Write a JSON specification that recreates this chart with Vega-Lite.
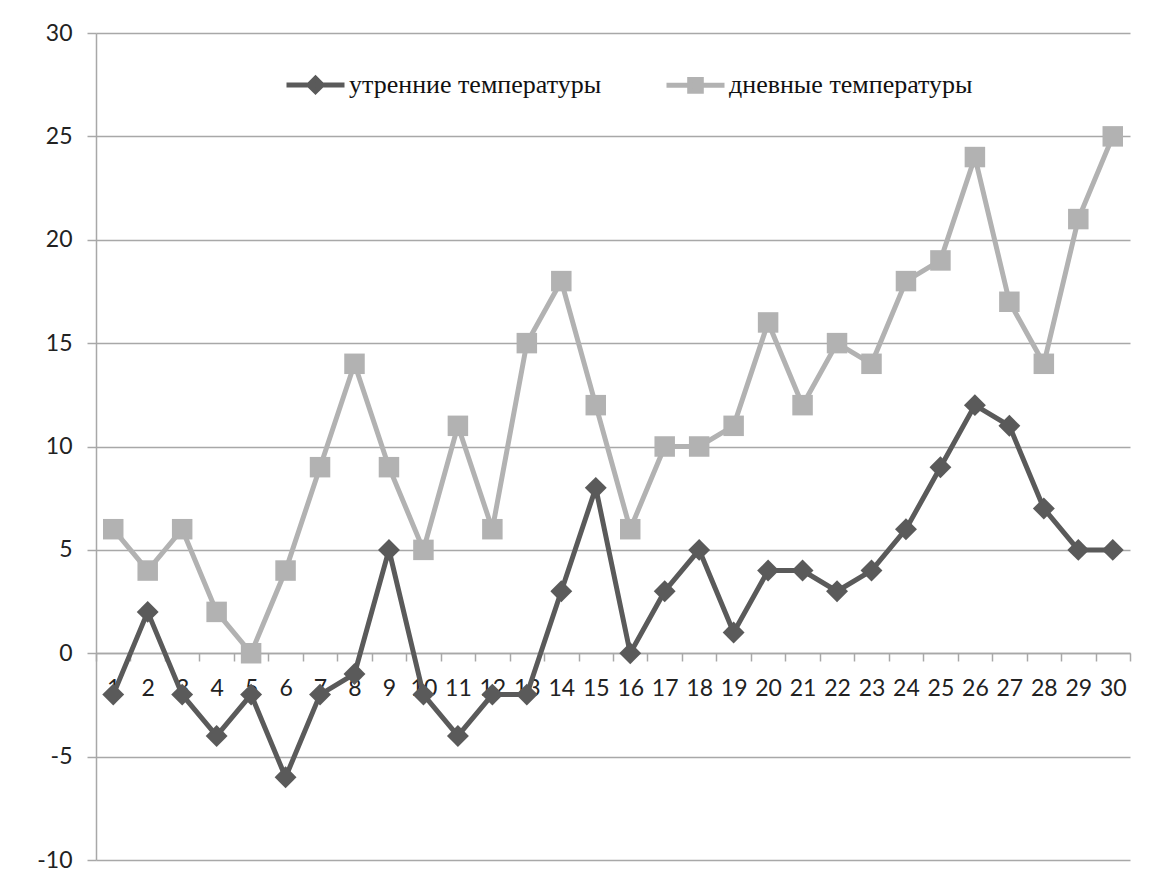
{
  "$schema": "https://vega.github.io/schema/vega-lite/v6.json",
  "width": 1034,
  "height": 827,
  "autosize": {"type": "none"},
  "padding": {"left": 96, "top": 33, "right": 20, "bottom": 23},
  "background": "white",
  "config": {
    "view": {"stroke": null},
    "axis": {
      "labelFont": "Lato",
      "labelFontSize": 23,
      "labelColor": "#222222",
      "domainColor": "#a8a8a8",
      "domainWidth": 1.5,
      "tickColor": "#a8a8a8",
      "tickWidth": 1.5,
      "gridColor": "#a8a8a8",
      "gridWidth": 1.5,
      "title": null
    }
  },
  "data": {
    "values": [
      {"day": 1, "series": "утренние температуры", "t": -2},
      {"day": 2, "series": "утренние температуры", "t": 2},
      {"day": 3, "series": "утренние температуры", "t": -2},
      {"day": 4, "series": "утренние температуры", "t": -4},
      {"day": 5, "series": "утренние температуры", "t": -2},
      {"day": 6, "series": "утренние температуры", "t": -6},
      {"day": 7, "series": "утренние температуры", "t": -2},
      {"day": 8, "series": "утренние температуры", "t": -1},
      {"day": 9, "series": "утренние температуры", "t": 5},
      {"day": 10, "series": "утренние температуры", "t": -2},
      {"day": 11, "series": "утренние температуры", "t": -4},
      {"day": 12, "series": "утренние температуры", "t": -2},
      {"day": 13, "series": "утренние температуры", "t": -2},
      {"day": 14, "series": "утренние температуры", "t": 3},
      {"day": 15, "series": "утренние температуры", "t": 8},
      {"day": 16, "series": "утренние температуры", "t": 0},
      {"day": 17, "series": "утренние температуры", "t": 3},
      {"day": 18, "series": "утренние температуры", "t": 5},
      {"day": 19, "series": "утренние температуры", "t": 1},
      {"day": 20, "series": "утренние температуры", "t": 4},
      {"day": 21, "series": "утренние температуры", "t": 4},
      {"day": 22, "series": "утренние температуры", "t": 3},
      {"day": 23, "series": "утренние температуры", "t": 4},
      {"day": 24, "series": "утренние температуры", "t": 6},
      {"day": 25, "series": "утренние температуры", "t": 9},
      {"day": 26, "series": "утренние температуры", "t": 12},
      {"day": 27, "series": "утренние температуры", "t": 11},
      {"day": 28, "series": "утренние температуры", "t": 7},
      {"day": 29, "series": "утренние температуры", "t": 5},
      {"day": 30, "series": "утренние температуры", "t": 5},
      {"day": 1, "series": "дневные температуры", "t": 6},
      {"day": 2, "series": "дневные температуры", "t": 4},
      {"day": 3, "series": "дневные температуры", "t": 6},
      {"day": 4, "series": "дневные температуры", "t": 2},
      {"day": 5, "series": "дневные температуры", "t": 0},
      {"day": 6, "series": "дневные температуры", "t": 4},
      {"day": 7, "series": "дневные температуры", "t": 9},
      {"day": 8, "series": "дневные температуры", "t": 14},
      {"day": 9, "series": "дневные температуры", "t": 9},
      {"day": 10, "series": "дневные температуры", "t": 5},
      {"day": 11, "series": "дневные температуры", "t": 11},
      {"day": 12, "series": "дневные температуры", "t": 6},
      {"day": 13, "series": "дневные температуры", "t": 15},
      {"day": 14, "series": "дневные температуры", "t": 18},
      {"day": 15, "series": "дневные температуры", "t": 12},
      {"day": 16, "series": "дневные температуры", "t": 6},
      {"day": 17, "series": "дневные температуры", "t": 10},
      {"day": 18, "series": "дневные температуры", "t": 10},
      {"day": 19, "series": "дневные температуры", "t": 11},
      {"day": 20, "series": "дневные температуры", "t": 16},
      {"day": 21, "series": "дневные температуры", "t": 12},
      {"day": 22, "series": "дневные температуры", "t": 15},
      {"day": 23, "series": "дневные температуры", "t": 14},
      {"day": 24, "series": "дневные температуры", "t": 18},
      {"day": 25, "series": "дневные температуры", "t": 19},
      {"day": 26, "series": "дневные температуры", "t": 24},
      {"day": 27, "series": "дневные температуры", "t": 17},
      {"day": 28, "series": "дневные температуры", "t": 14},
      {"day": 29, "series": "дневные температуры", "t": 21},
      {"day": 30, "series": "дневные температуры", "t": 25}
    ]
  },
  "encoding": {
    "x": {
      "field": "day",
      "type": "ordinal",
      "scale": {"type": "band", "paddingInner": 0, "paddingOuter": 0},
      "axis": {
        "orient": "bottom",
        "offset": -207,
        "labelAngle": 0,
        "labelOverlap": false,
        "tickBand": "extent",
        "tickSize": 8,
        "labelPadding": 16,
        "labelBaseline": "top",
        "grid": false
      }
    },
    "y": {
      "field": "t",
      "type": "quantitative",
      "scale": {"domain": [-10, 30], "nice": false, "zero": false},
      "axis": {
        "values": [-10, -5, 0, 5, 10, 15, 20, 25, 30],
        "labelExpr": "'' + datum.value",
        "tickSize": 9,
        "labelPadding": 15,
        "grid": true
      }
    },
    "color": {
      "field": "series",
      "type": "nominal",
      "scale": {
        "domain": ["утренние температуры", "дневные температуры"],
        "range": ["#5a5a5a", "#b2b2b2"]
      },
      "legend": {
        "orient": "none",
        "direction": "horizontal",
        "legendX": 188,
        "legendY": 20,
        "padding": 0,
        "title": null,
        "symbolType": "M-1,0H1",
        "symbolSize": 3364,
        "symbolStrokeWidth": 5,
        "labelFont": "Liberation Serif",
        "labelFontSize": 26,
        "labelColor": "#111111",
        "labelLimit": 500,
        "labelOffset": 2,
        "columnPadding": 54,
        "encode": {
          "symbols": {
            "update": {
              "shape": {"signal": "datum.value === 'утренние температуры' ? 'M-1,0H1M0,-0.23L0.23,0L0,0.23L-0.23,0Z' : 'M-1,0H1M-0.2,-0.2H0.2V0.2H-0.2Z'"},
              "fill": {"scale": "color", "field": "value"},
              "stroke": {"scale": "color", "field": "value"},
              "strokeWidth": {"value": 5},
              "opacity": {"value": 1}
            }
          }
        }
      }
    }
  },
  "layer": [
    {
      "mark": {"type": "line", "strokeWidth": 5}
    },
    {
      "transform": [{"filter": "datum.series === 'утренние температуры'"}],
      "mark": {"type": "point", "filled": true, "opacity": 1, "shape": "diamond", "size": 480}
    },
    {
      "transform": [{"filter": "datum.series === 'дневные температуры'"}],
      "mark": {"type": "point", "filled": true, "opacity": 1, "shape": "square", "size": 420}
    }
  ]
}
